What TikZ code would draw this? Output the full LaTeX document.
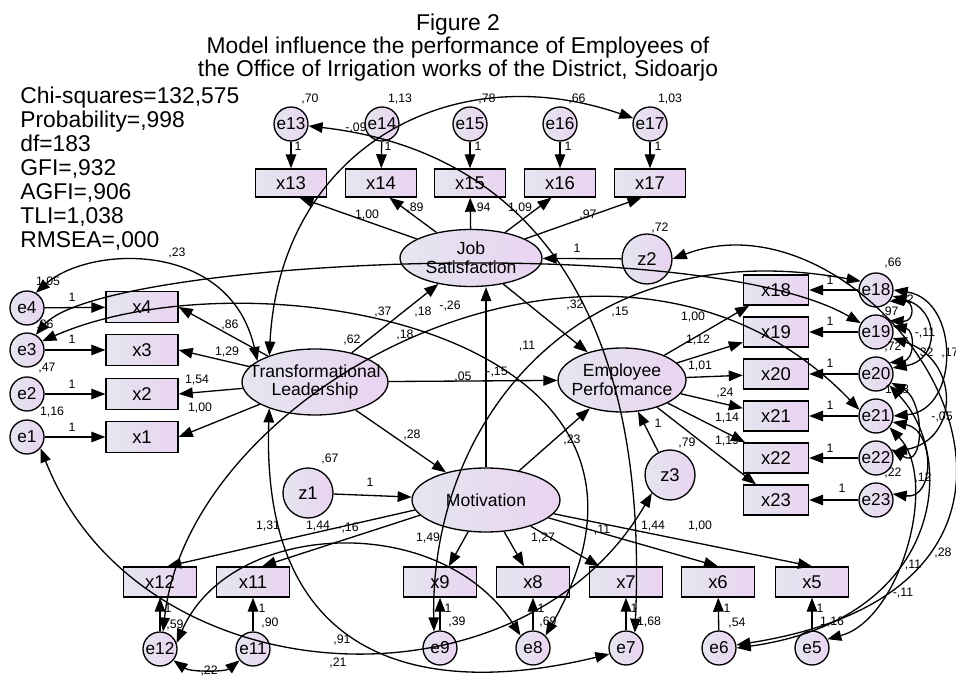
\documentclass[tikz,border=0pt]{standalone}
\usepackage{fontspec}
\setmainfont{Liberation Sans}
\usepackage{xcolor}
\definecolor{amosleft}{HTML}{E4E6EF}
\definecolor{amosright}{HTML}{EAD3F1}
\usetikzlibrary{shapes.geometric,arrows.meta}

\begin{document}
\begin{tikzpicture}[x=0.02cm, y=-0.02cm,
      obs/.style={draw, line width=0.75pt, left color=amosleft, right color=amosright, minimum width=1.44cm, minimum height=0.6cm, inner sep=0pt, font=\fontsize{10.5}{12}\selectfont},
      err/.style={circle, draw, line width=0.75pt, left color=amosleft, right color=amosright, minimum size=0.68cm, inner sep=0pt, font=\fontsize{9.8}{11}\selectfont},
      zcirc/.style={err, minimum size=1.0cm, font=\fontsize{10.5}{12}\selectfont},
      lat/.style={ellipse, draw, line width=0.75pt, left color=amosleft, right color=amosright, inner sep=0pt},
      lattext/.style={align=center, font=\fontsize{10}{10.6}\selectfont},
      reg/.style={-{Triangle[length=8pt,width=6pt]}, line width=0.75pt},
      covar/.style={{Triangle[length=8pt,width=6pt]}-{Triangle[length=8pt,width=6pt]}, line width=0.75pt},
      lbl/.style={font=\fontsize{7}{8}\selectfont, inner sep=0.5pt},
      heading/.style={align=center, inner sep=0pt, font=\fontsize{13}{13.1}\selectfont},
      fitstats/.style={align=left, inner sep=0pt, font=\fontsize{13}{13.65}\selectfont}
    ]
    \useasboundingbox (0,0) rectangle (956,678);
    \node[heading, anchor=north] (ttl) at (458,13.8) {Figure 2\\Model influence the performance of Employees of\\the Office of Irrigation works of the District, Sidoarjo};
    \node[fitstats, anchor=north west] (stats) at (20,86.5) {Chi-squares=132,575\\Probability=,998\\df=183\\GFI=,932\\AGFI=,906\\TLI=1,038\\RMSEA=,000};

    \node[err] (e13) at (291,124) {e13};
    \node[err] (e14) at (382,124) {e14};
    \node[err] (e15) at (470,124) {e15};
    \node[err] (e16) at (560,124) {e16};
    \node[err] (e17) at (650,124) {e17};
    \node[obs, minimum width=1.42cm, minimum height=0.56cm] (x13) at (291,183) {x13};
    \node[obs, minimum width=1.42cm, minimum height=0.56cm] (x14) at (381,183) {x14};
    \node[obs, minimum width=1.42cm, minimum height=0.56cm] (x15) at (470,183) {x15};
    \node[obs, minimum width=1.42cm, minimum height=0.56cm] (x16) at (560,183) {x16};
    \node[obs, minimum width=1.42cm, minimum height=0.56cm] (x17) at (650,183) {x17};
    \node[lat, minimum width=2.84cm, minimum height=1.14cm, label={[lattext]center:Job\\Satisfaction}] (JS) at (471,258) {};
    \node[zcirc] (z2) at (647,259) {z2};

    \node[err] (e4) at (27,308) {e4};
    \node[err] (e3) at (27,350) {e3};
    \node[err] (e2) at (27,394) {e2};
    \node[err] (e1) at (27,437) {e1};
    \node[obs, minimum height=0.63cm] (x4) at (142,307) {x4};
    \node[obs, minimum height=0.63cm] (x3) at (142,350) {x3};
    \node[obs, minimum height=0.63cm] (x2) at (142,394) {x2};
    \node[obs, minimum height=0.63cm] (x1) at (142,437) {x1};
    \node[lat, minimum width=2.92cm, minimum height=1.32cm, label={[lattext]center:Transformational\\Leadership}] (TL) at (315,382) {};

    \node[lat, minimum width=2.56cm, minimum height=1.28cm, label={[lattext]center:Employee\\Performance}] (EP) at (622,380) {};
    \node[lat, minimum width=2.96cm, minimum height=1.28cm, label={[lattext]center:Motivation}] (Mot) at (486,500) {};
    \node[zcirc] (z1) at (308,493) {z1};
    \node[zcirc] (z3) at (670,475) {z3};

    \node[obs, minimum width=1.3cm] (x18) at (776,290) {x18};
    \node[obs, minimum width=1.3cm] (x19) at (776,332) {x19};
    \node[obs, minimum width=1.3cm] (x20) at (776,374) {x20};
    \node[obs, minimum width=1.3cm] (x21) at (776,416) {x21};
    \node[obs, minimum width=1.3cm] (x22) at (776,458) {x22};
    \node[obs, minimum width=1.3cm] (x23) at (776,500) {x23};
    \node[err] (e18) at (876,290) {e18};
    \node[err] (e19) at (876,332) {e19};
    \node[err] (e20) at (876,374) {e20};
    \node[err] (e21) at (876,416) {e21};
    \node[err] (e22) at (876,458) {e22};
    \node[err] (e23) at (876,500) {e23};

    \node[obs, minimum width=1.46cm] (x12) at (160,582) {x12};
    \node[obs, minimum width=1.46cm] (x11) at (253,582) {x11};
    \node[obs, minimum width=1.46cm] (x9) at (440,582) {x9};
    \node[obs, minimum width=1.46cm] (x8) at (533,582) {x8};
    \node[obs, minimum width=1.46cm] (x7) at (626,582) {x7};
    \node[obs, minimum width=1.46cm] (x6) at (718,582) {x6};
    \node[obs, minimum width=1.46cm] (x5) at (812,582) {x5};
    \node[err] (e12) at (160,649) {e12};
    \node[err] (e11) at (253,649) {e11};
    \node[err] (e9) at (440,648) {e9};
    \node[err] (e8) at (533,648) {e8};
    \node[err] (e7) at (626,648) {e7};
    \node[err] (e6) at (719,648) {e6};
    \node[err] (e5) at (812,648) {e5};

    \node[lbl] (v13) at (310,99) {,70};
    \node[lbl] (v14) at (400,99) {1,13};
    \node[lbl] (v15) at (487,99) {,78};
    \node[lbl] (v16) at (577,99) {,66};
    \node[lbl] (v17) at (670,99) {1,03};
    \node[lbl] (vz2) at (660,228) {,72};
    \node[lbl] (v4) at (48,282) {1,05};
    \node[lbl] (v3) at (45,325) {,96};
    \node[lbl] (v2) at (47,368) {,47};
    \node[lbl] (v1) at (52,412) {1,16};
    \node[lbl] (vz1) at (330,459) {,67};
    \node[lbl] (vz3) at (687,443) {,79};
    \node[lbl] (v18) at (893,263) {,66};
    \node[lbl] (v19) at (890,312) {,97};
    \node[lbl] (v20) at (893,347) {,72};
    \node[lbl] (v21) at (897,390) {1,18};
    \node[lbl] (v23) at (893,473) {,22};
    \node[lbl] (v12) at (175,625) {,59};
    \node[lbl] (v11) at (270,623) {,90};
    \node[lbl] (v9) at (457,622) {,39};
    \node[lbl] (v8) at (548,622) {,69};
    \node[lbl] (v7) at (649,622) {1,68};
    \node[lbl] (v6) at (737,623) {,54};
    \node[lbl] (v5) at (832,622) {1,16};
    \node[lbl] (c18) at (405,335) {,18};
    \node[lbl] (c11) at (527,346) {,11};
    \node[lbl] (c24) at (725,393) {,24};

    \draw[reg] (e13) -- (x13) node[lbl] at (298,146) {1};
    \draw[reg] (e14) -- (x14) node[lbl] at (388,146) {1};
    \draw[reg] (e15) -- (x15) node[lbl] at (478,146) {1};
    \draw[reg] (e16) -- (x16) node[lbl] at (568,146) {1};
    \draw[reg] (e17) -- (x17) node[lbl] at (658,146) {1};
    \draw[reg] (JS) -- (x13.-60) node[lbl] at (367,215) {1,00};
    \draw[reg] (JS) -- (x14.-60) node[lbl] at (415,208) {,89};
    \draw[reg] (JS) -- (x15) node[lbl] at (482,208) {,94};
    \draw[reg] (JS) -- (x16.-120) node[lbl] at (520,208) {1,09};
    \draw[reg] (JS) -- (x17.-120) node[lbl] at (588,215) {,97};
    \draw[reg] (z2) -- (JS) node[lbl] at (577,248) {1};

    \draw[reg] (e4) -- (x4) node[lbl] at (72,297) {1};
    \draw[reg] (e3) -- (x3) node[lbl] at (72,339) {1};
    \draw[reg] (e2) -- (x2) node[lbl] at (72,384) {1};
    \draw[reg] (e1) -- (x1) node[lbl] at (72,427) {1};
    \draw[reg] (TL) -- (x4.east) node[lbl] at (230,325) {,86};
    \draw[reg] (TL) -- (x3.east) node[lbl] at (227,352) {1,29};
    \draw[reg] (TL) -- (x2.east) node[lbl] at (197,380) {1,54};
    \draw[reg] (TL) -- (x1.east) node[lbl] at (200,408) {1,00};

    \draw[reg] (TL) -- (JS) node[lbl] at (383,312) {,37};
    \draw[reg] (TL) -- (EP) node[lbl] at (463,377) {,05};
    \draw[reg] (TL) -- (Mot) node[lbl] at (412,435) {,28};
    \draw[reg] (Mot.north) -- (JS.south -| Mot.north) node[lbl] at (497,372) {-,15};
    \draw[reg] (JS) -- (EP) node[lbl] at (575,305) {,32};
    \draw[reg] (Mot) -- (EP) node[lbl] at (572,440) {,23};
    \draw[reg] (z1) -- (Mot) node[lbl] at (370,482) {1};
    \draw[reg] (z3) -- (EP) node[lbl] at (658,423) {1};

    \draw[reg] (EP) -- (x18) node[lbl] at (693,317) {1,00};
    \draw[reg] (EP) -- (x19) node[lbl] at (698,340) {1,12};
    \draw[reg] (EP) -- (x20) node[lbl] at (700,366) {1,01};
    \draw[reg] (EP) -- (x21) node[lbl] at (727,418) {1,14};
    \draw[reg] (EP) -- (x22) node[lbl] at (727,441) {1,19};
    \draw[reg] (EP) -- (x23);
    \draw[reg] (e18) -- (x18) node[lbl] at (830,280) {1};
    \draw[reg] (e19) -- (x19) node[lbl] at (830,321) {1};
    \draw[reg] (e20) -- (x20) node[lbl] at (830,363) {1};
    \draw[reg] (e21) -- (x21) node[lbl] at (830,405) {1};
    \draw[reg] (e22) -- (x22) node[lbl] at (830,448) {1};
    \draw[reg] (e23) -- (x23) node[lbl] at (842,488) {1};

    \draw[reg] (Mot.188) -- (x12.65) node[lbl] at (268,526) {1,31};
    \draw[reg] (Mot.193) -- (x11.60) node[lbl] at (318,526) {1,44};
    \draw[reg] (Mot) -- (x9) node[lbl] at (428,538) {1,49};
    \draw[reg] (Mot) -- (x8) node[lbl] at (543,538) {1,27};
    \draw[reg] (Mot) -- (x7) node[lbl] at (602,530) {,11};
    \draw[reg] (Mot) -- (x6.north) node[lbl] at (653,526) {1,44};
    \draw[reg] (Mot) -- (x5.north) node[lbl] at (700,526) {1,00};
    \draw[reg] (e12) -- (x12) node[lbl] at (168,608) {1};
    \draw[reg] (e11) -- (x11) node[lbl] at (262,608) {1};
    \draw[reg] (e9) -- (x9) node[lbl] at (448,608) {1};
    \draw[reg] (e8) -- (x8) node[lbl] at (541,608) {1};
    \draw[reg] (e7) -- (x7) node[lbl] at (634,608) {1};
    \draw[reg] (e6) -- (x6) node[lbl] at (727,608) {1};
    \draw[reg] (e5) -- (x5) node[lbl] at (820,608) {1};

    \draw[covar] (e13) .. controls (520,150) and (650,300) .. (e7.60) node[lbl] at (356,128) {-,09};
    \draw[covar] (TL.150) .. controls (280,150) and (450,55) .. (e17);
    \draw[covar] (e4.60) .. controls (90,245) and (230,240) .. (TL.160) node[lbl] at (177,253) {,23};
    \draw[covar] (e3.60) .. controls (100,260) and (700,230) .. (e19.150) node[lbl] at (450,306) {-,26};
    \draw[covar] (e3.30) .. controls (250,250) and (720,330) .. (e8.45) node[lbl] at (423,312) {,18};
    \draw[covar] (e12.80) .. controls (190,380) and (620,160) .. (e21.160) node[lbl] at (352,340) {,62};
    \draw[covar] (e9.110) .. controls (430,420) and (580,230) .. (e18.150) node[lbl] at (620,312) {,15};
    \draw[covar] (e12.20) .. controls (230,520) and (440,510) .. (e8.135) node[lbl] at (348,528) {-,16};
    \draw[covar] (e1.-40) .. controls (140,700) and (520,720) .. (z3.-135) node[lbl] at (342,640) {,91};
    \draw[covar] (TL.210) .. controls (260,660) and (420,700) .. (e7.200) node[lbl] at (338,663) {,21};
    \draw[covar] (e12.-40) .. controls (190,672) and (225,672) .. (e11.-140) node[lbl] at (207,671) {-,22};

    \draw[covar] (e18.east) .. controls (960,300) and (960,410) .. (e21.east) node[lbl] at (950,353) {,17};
    \draw[covar] (e18.-20) .. controls (940,310) and (940,360) .. (e20.20) node[lbl] at (925,353) {,32};
    \draw[covar] (e19.20) .. controls (915,330) and (915,360) .. (e20.40) node[lbl] at (925,333) {-,11};
    \draw[covar] (e18.-40) .. controls (915,300) and (915,322) .. (e19.40) node[lbl] at (903,300) {-,22};
    \draw[covar] (e19.-20) .. controls (960,360) and (960,440) .. (e22.20) node[lbl] at (942,417) {-,05};
    \draw[covar] (e21.-20) .. controls (935,430) and (935,500) .. (e23.20) node[lbl] at (923,478) {,12};
    \draw[covar] (e20.-30) .. controls (925,400) and (925,470) .. (e22.30);
    \draw[covar] (z2.east) .. controls (880,180) and (1150,580) .. (e6.10) node[lbl] at (943,553) {,28};
    \draw[covar] (e20.-40) .. controls (960,460) and (940,620) .. (e6.east) node[lbl] at (913,565) {,11};
    \draw[covar] (e21.-40) .. controls (940,480) and (900,620) .. (e5.30) node[lbl] at (903,593) {-,11};
  \end{tikzpicture}
\end{document}
